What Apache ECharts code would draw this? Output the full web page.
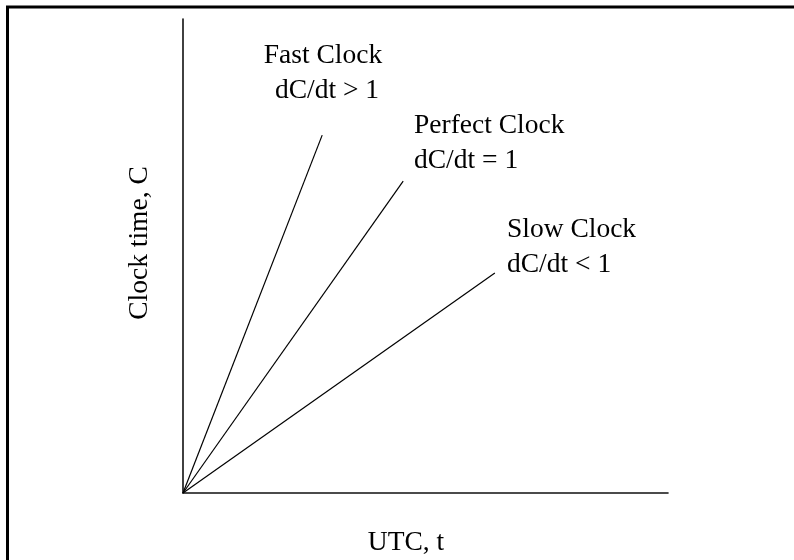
<!DOCTYPE html>
<html lang="en">
<head>
    <meta charset="UTF-8">
    <title>Clock drift</title>
    <script src="https://cdn.jsdelivr.net/npm/echarts@6/dist/echarts.min.js"></script>
    <style>
        html, body { margin: 0; padding: 0; background: #fff; }
        #main { width: 794px; height: 560px; }
    </style>
</head>
<body>
<div id="main"></div>
<script type="text/javascript">
    // end points of each clock line, in axis units (0..100 on both axes)
    var fastClock = [[0, 0], [28.7, 75.5]];
    var perfectClock = [[0, 0], [45.4, 65.8]];
    var slowClock = [[0, 0], [64.3, 46.4]];

    var xName = 'UTC, t';
    var yName = 'Clock time, C';
    var fastLabel = ['Fast Clock', 'dC/dt > 1'];
    var perfectLabel = ['Perfect Clock', 'dC/dt = 1'];
    var slowLabel = ['Slow Clock', 'dC/dt < 1'];

    var font = '"Liberation Serif", "Times New Roman", serif';
    var fs = 27.5;

    function txt(s, x, y, align) {
        return {
            type: 'text', x: x, y: y, silent: true,
            style: { text: s, fontFamily: font, fontSize: fs, fill: '#000', align: align || 'left', verticalAlign: 'middle' }
        };
    }

    function lineSeries(name, data) {
        return {
            name: name, type: 'line', data: data, symbol: 'none', silent: true,
            lineStyle: { color: '#000', width: 1.2 }
        };
    }

    var axisCommon = {
        type: 'value', min: 0, max: 100,
        axisLine: { show: true, onZero: false, lineStyle: { color: '#111', width: 1.6 } },
        axisTick: { show: false },
        axisLabel: { show: false },
        splitLine: { show: false }
    };

    var myChart = echarts.init(document.getElementById('main'));
    myChart.setOption({
        animation: false,
        backgroundColor: '#fff',
        grid: { left: 183, top: 19, width: 485, height: 474 },
        xAxis: axisCommon,
        yAxis: axisCommon,
        series: [
            lineSeries('Fast Clock', fastClock),
            lineSeries('Perfect Clock', perfectClock),
            lineSeries('Slow Clock', slowClock)
        ],
        graphic: [
            { type: 'line', silent: true, shape: { x1: 7.5, y1: 7, x2: 7.5, y2: 560 }, style: { stroke: '#000', lineWidth: 3 } },
            { type: 'line', silent: true, shape: { x1: 6, y1: 7, x2: 794, y2: 7 }, style: { stroke: '#000', lineWidth: 3 } },
            txt(fastLabel[0], 323, 56, 'center'),
            txt(fastLabel[1], 327, 91, 'center'),
            txt(perfectLabel[0], 414, 126),
            txt(perfectLabel[1], 414, 161),
            txt(slowLabel[0], 507, 230),
            txt(slowLabel[1], 507, 265),
            txt(xName, 406, 543, 'center'),
            {
                type: 'text', x: 140, y: 243, rotation: Math.PI / 2, silent: true,
                style: { text: yName, fontFamily: font, fontSize: fs, fill: '#000', align: 'center', verticalAlign: 'middle' }
            }
        ]
    });
</script>
</body>
</html>
